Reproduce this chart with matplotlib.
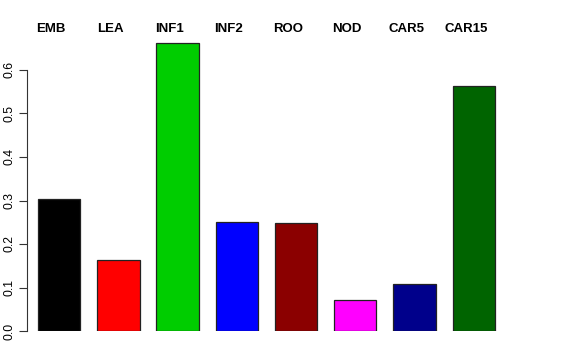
import matplotlib
matplotlib.use("Agg")
import matplotlib.pyplot as plt

categories = ["EMB", "LEA", "INF1", "INF2", "ROO", "NOD", "CAR5", "CAR15"]
values = [0.303, 0.163, 0.662, 0.251, 0.248, 0.071, 0.108, 0.563]
colors = ["#000000", "#FF0000", "#00CD00", "#0000FF", "#8B0000", "#FF00FF", "#00008B", "#006400"]
yticks = [0.0, 0.1, 0.2, 0.3, 0.4, 0.5, 0.6]

W, H = 576, 360
fig = plt.figure(figsize=(W / 100, H / 100), dpi=100)
plt.rcParams['font.family'] = ['Liberation Sans', 'DejaVu Sans']

px_per_unit = 42.3
left_px, right_px = 27, 540
bottom_px, top_px = 331, 20
ax = fig.add_axes([left_px / W, (H - bottom_px) / H, (right_px - left_px) / W, (bottom_px - top_px) / H])
x0 = 0.4 + (left_px - 38) / px_per_unit
x1 = 0.4 + (right_px - 38) / px_per_unit
ax.set_xlim(x0, x1)
ax.set_ylim(0, (bottom_px - top_px) / 435.0)

centers = [0.9 + 1.4 * i for i in range(len(categories))]
ax.bar(centers, values, width=1.0, color=colors, edgecolor="#222222", linewidth=0.9)

for c, lab in zip(centers, categories):
    ax.text(c - 8 / px_per_unit, (bottom_px - 29) / 435.0, lab, ha="center", va="center",
            fontsize=9.5, fontweight="bold")

for s in ["top", "right", "bottom"]:
    ax.spines[s].set_visible(False)
ax.spines["left"].set_bounds(0, 0.6)
ax.spines["left"].set_color("#333333")
ax.set_xticks([])
ax.set_yticks(yticks)
ax.set_yticklabels([f"{t:.1f}" for t in yticks], rotation=90, va="center", fontsize=8.8)
ax.tick_params(axis="y", length=6, width=0.8, color="#333333", pad=2)

fig.savefig("out.png", dpi=100)
